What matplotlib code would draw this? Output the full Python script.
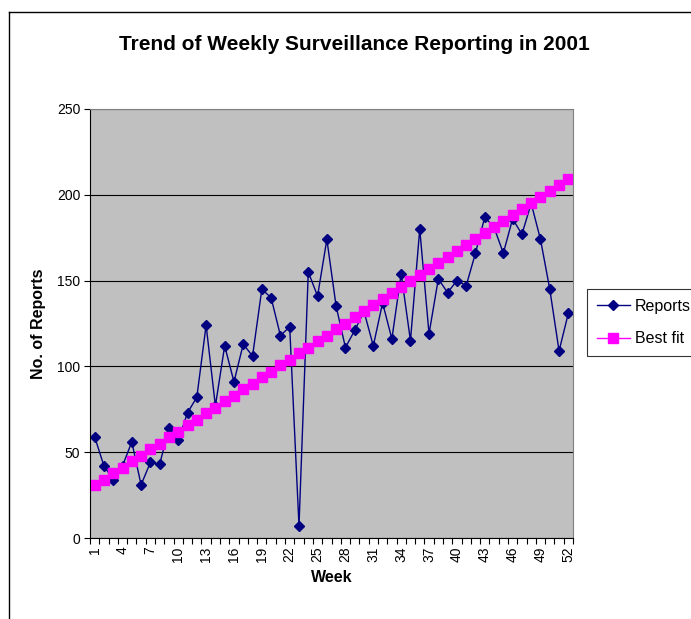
import numpy as np
import matplotlib
matplotlib.use("Agg")
import matplotlib.pyplot as plt
from matplotlib.lines import Line2D

plt.rcParams["font.family"] = ["Liberation Sans", "DejaVu Sans"]

# weekly reports
weeks = list(range(1, 53))
reports = [59, 42, 34, 42, 56, 31, 44, 43, 64, 57,
           73, 82, 124, 77, 112, 91, 113, 106, 145, 140,
           118, 123, 7, 155, 141, 174, 135, 111, 121, 132,
           112, 137, 116, 154, 115, 180, 119, 151, 143, 150,
           147, 166, 187, 181, 166, 186, 177, 195, 174, 145,
           109, 131]
# best fit line as drawn on the chart
best_fit = [31, 34, 38, 41, 45, 48, 52, 55, 59, 62,
            66, 69, 73, 76, 80, 83, 87, 90, 94, 97,
            101, 104, 108, 111, 115, 118, 122, 125, 129, 132,
            136, 139, 143, 146, 150, 153, 157, 160, 164, 167,
            171, 174, 178, 181, 185, 188, 192, 195, 199, 202,
            206, 209]
tick_weeks = list(range(1, 53, 3))

fig = plt.figure(figsize=(6.91, 6.19), dpi=100)
W, H = 691, 619

# chart border (left and top visible)
fig.add_artist(Line2D([9 / W, 9 / W], [0, 1 - 12 / H], color="black", lw=1))
fig.add_artist(Line2D([9 / W, 1], [1 - 12 / H, 1 - 12 / H], color="black", lw=1))

ax = fig.add_axes([90 / W, 1 - 538 / H, (573 - 90) / W, (538 - 109) / H])
ax.set_facecolor("#C0C0C0")

ax.plot(weeks, reports, color="#000080", lw=1, marker="D", markersize=5.5,
        label="Reports")
ax.plot(weeks, best_fit, color="#FF00FF", lw=1, marker="s", markersize=6.5,
        label="Best fit")

ax.set_xlim(0.5, 52.5)
ax.set_ylim(0, 250)
ax.set_yticks([0, 50, 100, 150, 200, 250])
ax.yaxis.grid(True, color="black", lw=0.8)
ax.set_axisbelow(True)

ax.set_xticks(tick_weeks)
ax.set_xticklabels([str(w) for w in tick_weeks], rotation=90, fontsize=10)
ax.set_xticks(np.arange(0.5, 53, 1), minor=True)
ax.tick_params(axis="x", which="major", length=0, pad=6)
ax.tick_params(axis="x", which="minor", length=4, direction="out", width=0.8)
ax.tick_params(axis="y", length=4, direction="out", width=0.8, labelsize=10, pad=3)

for side in ["top", "right"]:
    ax.spines[side].set_color("#808080")
for side in ["left", "bottom"]:
    ax.spines[side].set_color("black")

ax.set_xlabel("Week", fontsize=11.5, fontweight="bold", labelpad=6)
ax.set_ylabel("No. of Reports", fontsize=11.5, fontweight="bold", labelpad=8)

fig.text(354 / W, 1 - 45 / H, "Trend of Weekly Surveillance Reporting in 2001",
         ha="center", va="center", fontsize=15, fontweight="bold")

leg = ax.legend(loc="upper left", bbox_to_anchor=(587 / W, 1 - 289 / H),
                bbox_transform=fig.transFigure, frameon=True, fancybox=False,
                edgecolor="black", fontsize=11.5, handlelength=2.1,
                borderpad=0.6, labelspacing=1.1, handletextpad=0.3,
                borderaxespad=0)
leg.get_frame().set_linewidth(0.8)

fig.savefig("out.png", dpi=100)
